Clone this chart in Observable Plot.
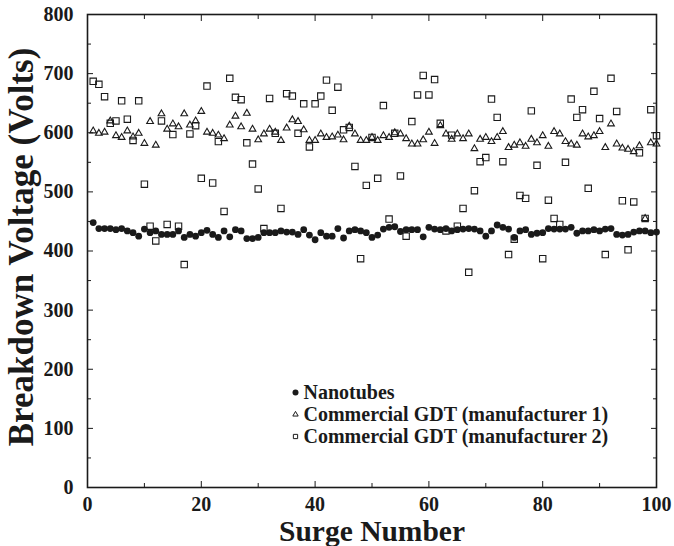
<!DOCTYPE html>
<html><head><meta charset="utf-8">
<script src="https://cdn.jsdelivr.net/npm/d3@7"></script>
<script src="https://cdn.jsdelivr.net/npm/@observablehq/plot@0.6"></script>
<style>
html,body{margin:0;padding:0;background:#fff;}
#chart{width:674px;height:546px;}
</style></head><body><div id="chart"></div>
<script>
const surges = d3.range(1, 101);
const nanotubes = [448,438,438,438,436,438,434,431,425,437,431,434,428,428,428,434,423,428,425,431,
435,428,423,434,424,436,434,421,421,423,431,431,431,434,432,432,428,436,427,419,
431,425,425,438,422,434,436,434,431,423,427,437,440,441,433,436,436,436,424,440,
437,436,438,434,436,437,438,437,434,425,434,444,440,437,423,434,436,428,430,431,
438,437,437,437,440,430,434,434,436,434,437,438,428,427,428,432,434,434,431,432];
const gdt1 = [603,599,601,620,595,592,603,593,599,582,619,579,632,606,615,610,632,613,620,636,
601,599,596,590,613,628,610,633,606,588,598,606,601,587,608,622,619,605,587,587,
598,592,593,596,588,611,598,587,587,592,587,595,592,600,598,590,581,581,588,601,
582,612,598,589,598,590,598,573,589,592,585,592,602,575,579,583,577,589,583,595,
577,602,598,585,581,579,598,593,595,602,575,615,581,574,572,568,578,455,583,581];
const gdt2 = [687,682,661,616,620,654,623,587,654,513,442,417,620,445,597,442,377,598,612,523,
679,515,585,467,692,660,656,583,547,505,438,658,599,472,666,662,599,649,576,649,
662,689,638,677,605,609,543,387,511,592,523,646,454,599,527,425,619,664,697,664,
690,616,434,596,442,472,364,502,551,558,657,626,551,394,420,494,489,637,545,387,
486,455,445,550,657,626,639,506,670,624,394,692,636,485,402,483,566,455,639,595];
const seriesNames = ["Nanotubes", "Commercial GDT (manufacturer 1)", "Commercial GDT (manufacturer 2)"];
const xMajor = [0, 20, 40, 60, 80, 100];
const xMinor = [10, 30, 50, 70, 90];
const yMajor = [0, 100, 200, 300, 400, 500, 600, 700, 800];
const yMinor = [50, 150, 250, 350, 450, 550, 650, 750];
const xTitle = "Surge Number";
const yTitle = "Breakdown Voltage (Volts)";

const toRows = (vals) => vals.map((v, i) => ({surge: surges[i], volts: v}));
const ink = "#1a1a1a";
const blank = () => "";
const font = "'Liberation Serif', 'Times New Roman', serif";

const chart = Plot.plot({
  width: 674, height: 546,
  marginLeft: 87, marginRight: 18, marginTop: 14, marginBottom: 59,
  x: {domain: [0, 100]},
  y: {domain: [0, 800]},
  style: {fontFamily: font, fontWeight: "bold", fontSize: "20px", color: ink, background: "#fff"},
  marks: [
    Plot.frame({stroke: ink, strokeWidth: 1.6}),
    Plot.axisX(xMajor, {anchor: "bottom", tickSize: -6, tickFormat: blank, label: null, stroke: ink}),
    Plot.axisX(xMinor, {anchor: "bottom", tickSize: -4, tickFormat: blank, label: null, stroke: ink}),
    Plot.axisX(xMajor, {anchor: "top", tickSize: -6, tickFormat: blank, label: null, stroke: ink}),
    Plot.axisX(xMinor, {anchor: "top", tickSize: -4, tickFormat: blank, label: null, stroke: ink}),
    Plot.axisY(yMajor, {anchor: "left", tickSize: -6, tickFormat: blank, label: null, stroke: ink}),
    Plot.axisY(yMinor, {anchor: "left", tickSize: -4, tickFormat: blank, label: null, stroke: ink}),
    Plot.axisY(yMajor, {anchor: "right", tickSize: -6, tickFormat: blank, label: null, stroke: ink}),
    Plot.axisY(yMinor, {anchor: "right", tickSize: -4, tickFormat: blank, label: null, stroke: ink}),
    Plot.axisX(xMajor, {anchor: "bottom", tickSize: 0, tickPadding: 9, label: null, fontSize: 20, fontWeight: "bold", fill: ink}),
    Plot.axisY(yMajor, {anchor: "left", tickSize: 0, tickPadding: 14, label: null, fontSize: 20, fontWeight: "bold", fill: ink}),
    Plot.text([xTitle], {frameAnchor: "bottom", dy: 44, textAnchor: "middle", lineAnchor: "middle", fontSize: 29.5, fontWeight: "bold", fill: ink}),
    Plot.text([yTitle], {frameAnchor: "left", dx: -66, dy: -4, rotate: -90, textAnchor: "middle", lineAnchor: "middle", fontSize: 35, fontWeight: "bold", fill: ink}),
    Plot.dot(toRows(gdt2), {x: "surge", y: "volts", symbol: "square", r: 3.6, stroke: ink, strokeWidth: 1.1, fill: "none"}),
    Plot.dot(toRows(gdt1), {x: "surge", y: "volts", symbol: "triangle", r: 2.5, stroke: ink, strokeWidth: 1.1, fill: "none"}),
    Plot.dot(toRows(nanotubes), {x: "surge", y: "volts", symbol: "circle", r: 3.4, fill: ink, stroke: "none"}),
    // legend
    Plot.dot([seriesNames[0]], {frameAnchor: "bottom-left", dx: 208, dy: -95, symbol: "circle", r: 3, fill: ink}),
    Plot.dot([seriesNames[1]], {frameAnchor: "bottom-left", dx: 208, dy: -73, symbol: "triangle", r: 2, stroke: ink, strokeWidth: 1, fill: "none"}),
    Plot.dot([seriesNames[2]], {frameAnchor: "bottom-left", dx: 208, dy: -51, symbol: "square", r: 2.4, stroke: ink, strokeWidth: 1, fill: "none"}),
    Plot.text([seriesNames[0]], {frameAnchor: "bottom-left", dx: 216, dy: -95, textAnchor: "start", lineAnchor: "middle", fontSize: 20, fontWeight: "bold", fill: ink}),
    Plot.text([seriesNames[1]], {frameAnchor: "bottom-left", dx: 216, dy: -73, textAnchor: "start", lineAnchor: "middle", fontSize: 20, fontWeight: "bold", fill: ink}),
    Plot.text([seriesNames[2]], {frameAnchor: "bottom-left", dx: 216, dy: -51, textAnchor: "start", lineAnchor: "middle", fontSize: 20, fontWeight: "bold", fill: ink})
  ]
});
document.getElementById("chart").append(chart);
</script>
</body></html>
